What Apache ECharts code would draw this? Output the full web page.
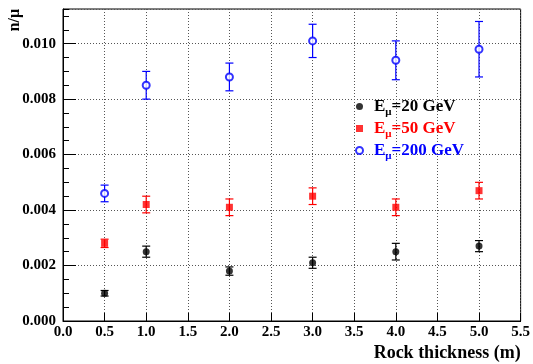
<!DOCTYPE html>
<html>
<head>
<meta charset="utf-8">
<script src="https://cdn.jsdelivr.net/npm/echarts@6/dist/echarts.min.js"></script>
<style>
  html, body { margin: 0; padding: 0; background: #fff; }
  #chart { width: 533px; height: 364px; }
</style>
</head>
<body>
<div id="chart"></div>
<script>
// rock thickness (m)
const thickness = [0.5, 1.0, 2.0, 3.0, 4.0, 5.0];

// n/mu per muon energy, with symmetric errors
const ratio20 = [0.0010, 0.0025, 0.0018, 0.0021, 0.0025, 0.0027];
const err20 = [0.0001, 0.0002, 0.00015, 0.0002, 0.0003, 0.0002];
const ratio50 = [0.0028, 0.0042, 0.0041, 0.0045, 0.0041, 0.0047];
const err50 = [0.00015, 0.0003, 0.0003, 0.0003, 0.0003, 0.0003];
const ratio200 = [0.0046, 0.0085, 0.0088, 0.0101, 0.0094, 0.0098];
const err200 = [0.0003, 0.0005, 0.0005, 0.0006, 0.0007, 0.001];

const seriesNames = ['20', '50', '200'];
const seriesColors = ['#000000', '#ff0000', '#0000ff'];

const serif = '"Liberation Serif", "DejaVu Serif", serif';

function points(values) {
  return thickness.map((x, i) => [x, values[i]]);
}

function errorPoints(values, errors) {
  return thickness.map((x, i) => [x, values[i] - errors[i], values[i] + errors[i]]);
}

function errorSeries(values, errors, color) {
  return {
    type: 'custom',
    data: errorPoints(values, errors),
    z: 2,
    silent: true,
    renderItem: (params, api) => {
      const lo = api.coord([api.value(0), api.value(1)]);
      const hi = api.coord([api.value(0), api.value(2)]);
      const cap = 4;
      const style = { stroke: color, lineWidth: 1.2 };
      return {
        type: 'group',
        children: [
          { type: 'line', shape: { x1: lo[0], y1: lo[1], x2: hi[0], y2: hi[1] }, style },
          { type: 'line', shape: { x1: lo[0] - cap, y1: lo[1], x2: lo[0] + cap, y2: lo[1] }, style },
          { type: 'line', shape: { x1: hi[0] - cap, y1: hi[1], x2: hi[0] + cap, y2: hi[1] }, style },
        ],
      };
    },
  };
}

const chart = echarts.init(document.getElementById('chart'), null, { renderer: 'canvas' });

const labelText = { color: '#000', fontFamily: serif, fontWeight: 'bold', fontSize: 14 };
const yMax = 0.01125;

chart.setOption({
  animation: false,
  backgroundColor: '#fff',
  grid: {
    left: 63,
    right: 10,
    top: 9,
    bottom: 43,
    show: true,
    borderColor: '#000',
    borderWidth: 1,
  },
  legend: {
    orient: 'vertical',
    left: 350,
    top: 93,
    itemGap: 2,
    itemWidth: 7,
    itemHeight: 7,
    selectedMode: false,
    data: [
      { name: '20', icon: 'circle', textStyle: { color: '#000' } },
      { name: '50', icon: 'rect', textStyle: { color: '#ff0000' } },
      { name: '200', icon: 'emptyCircle', textStyle: { color: '#0000ff' } },
    ],
    formatter: (name) => `{e|E}{s|μ}{t|=${name} GeV}`,
    textStyle: {
      fontFamily: serif,
      fontWeight: 'bold',
      fontSize: 16,
      padding: [0, 0, 0, 6],
      rich: {
        e: { fontFamily: serif, fontWeight: 'bold', fontSize: 17 },
        s: { fontFamily: serif, fontWeight: 'bold', fontSize: 11, padding: [12, 0, 0, 0] },
        t: { fontFamily: serif, fontWeight: 'bold', fontSize: 17 },
      },
    },
  },
  xAxis: {
    type: 'value',
    min: 0,
    max: 5.5,
    interval: 0.5,
    name: 'Rock thickness (m)',
    nameLocation: 'end',
    nameGap: 0,
    nameTextStyle: {
      ...labelText,
      fontSize: 18,
      align: 'right',
      verticalAlign: 'top',
      padding: [23, 0, 0, 0],
    },
    axisLine: { show: true, lineStyle: { color: '#000', width: 1 } },
    axisTick: { show: true, inside: true, length: 8, lineStyle: { color: '#000' } },
    axisLabel: { ...labelText, fontSize: 15, margin: 4, formatter: (v) => v.toFixed(1) },
    splitLine: { show: true, lineStyle: { color: '#555', type: [1, 2], width: 1 } },
  },
  yAxis: [
    {
      type: 'value',
      min: 0,
      max: yMax,
      interval: 0.002,
      position: 'left',
      name: 'n/μ',
      nameLocation: 'end',
      nameRotate: 90,
      nameGap: 0,
      nameTextStyle: { ...labelText, fontSize: 16, align: 'right', verticalAlign: 'bottom', padding: [0, 0, 40, 0] },
      axisLine: { show: true, lineStyle: { color: '#000', width: 1 } },
      axisTick: { show: true, inside: true, length: 13, lineStyle: { color: '#000' } },
      axisLabel: {
        ...labelText,
        fontSize: 15,
        margin: 7,
        showMaxLabel: false,
        formatter: (v) => (Math.abs(v / 0.002 - Math.round(v / 0.002)) < 1e-6 ? v.toFixed(3) : ''),
      },
      splitLine: { show: true, lineStyle: { color: '#555', type: [1, 2], width: 1 } },
    },
    {
      type: 'value',
      min: 0,
      max: yMax,
      interval: 0.0005,
      position: 'left',
      offset: 0,
      axisLine: { show: false },
      axisTick: { show: true, inside: true, length: 6, lineStyle: { color: '#000' } },
      axisLabel: { show: false },
      splitLine: { show: false },
    },
  ],
  series: [
    errorSeries(ratio20, err20, seriesColors[0]),
    errorSeries(ratio50, err50, seriesColors[1]),
    errorSeries(ratio200, err200, seriesColors[2]),
    {
      name: seriesNames[0],
      type: 'scatter',
      data: points(ratio20),
      symbol: 'circle',
      symbolSize: 7,
      itemStyle: { color: seriesColors[0] },
      z: 3,
    },
    {
      name: seriesNames[1],
      type: 'scatter',
      data: points(ratio50),
      symbol: 'rect',
      symbolSize: 7,
      itemStyle: { color: seriesColors[1] },
      z: 3,
    },
    {
      name: seriesNames[2],
      type: 'scatter',
      data: points(ratio200),
      symbol: 'emptyCircle',
      symbolSize: 7,
      itemStyle: { color: seriesColors[2], borderWidth: 1 },
      z: 3,
    },
  ],
});
</script>
</body>
</html>
